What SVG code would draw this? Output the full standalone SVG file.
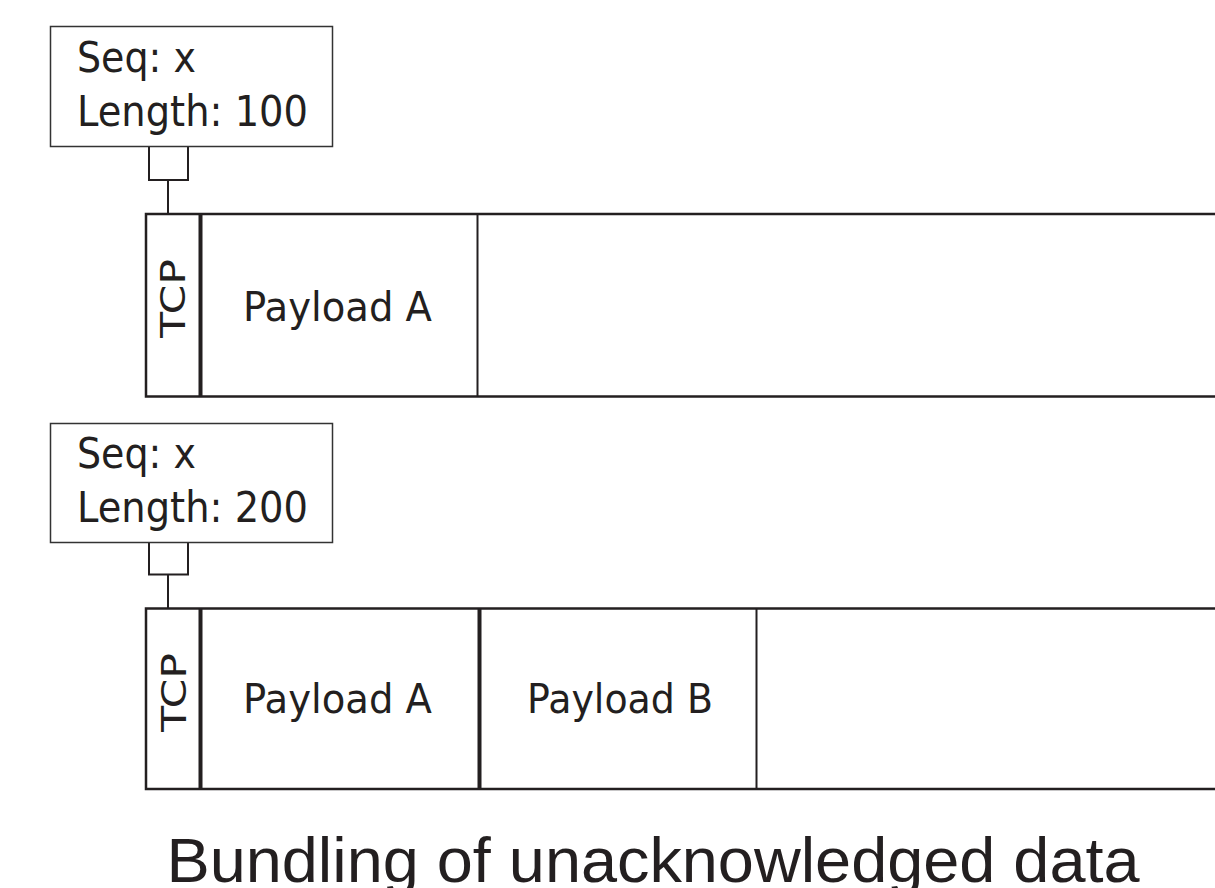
<svg xmlns="http://www.w3.org/2000/svg" width="1215" height="888" viewBox="0 0 1215 888">
<style>
.hdr{fill:#fff;stroke:#333;stroke-width:1.5}
.ln{fill:none;stroke:#231f20;stroke-width:2.5}
.thin{fill:none;stroke:#231f20;stroke-width:2}
.thick{fill:none;stroke:#231f20;stroke-width:4}
.lbl{font-family:"DejaVu Sans","Noto Sans",sans-serif;fill:#231f20}
.title{font-family:"Liberation Sans",Arial,sans-serif;fill:#231f20;font-size:63px}
</style>
<rect width="1215" height="888" fill="#fff"/>
<g id="connectors">
<path class="thin" d="M149,147 V180 H188 V147 M168,180 V214"/>
<path class="thin" d="M149,542.5 V574.5 H188 V542.5 M168,574.5 V608.5"/>
</g>
<g id="header1">
<rect class="hdr" x="50.5" y="26.5" width="282" height="120"/>
<text class="lbl" x="77" y="72" font-size="42" textLength="119" lengthAdjust="spacingAndGlyphs">Seq: x</text>
<text class="lbl" x="77" y="126" font-size="42" textLength="231" lengthAdjust="spacingAndGlyphs">Length: 100</text>
</g>
<g id="segment1">
<path class="ln" d="M1215,214 H146 V396.5 H1215"/>
<line class="thick" x1="200.5" y1="214" x2="200.5" y2="396.5"/>
<line class="thin" x1="477.5" y1="214" x2="477.5" y2="396.5"/>
<text class="lbl" transform="translate(185,298.5) rotate(-90)" text-anchor="middle" font-size="33" textLength="79" lengthAdjust="spacingAndGlyphs">TCP</text>
<text class="lbl" x="243" y="320.5" font-size="40" textLength="189" lengthAdjust="spacingAndGlyphs">Payload A</text>
</g>
<g id="header2">
<rect class="hdr" x="50.5" y="423.5" width="282" height="119"/>
<text class="lbl" x="77" y="468" font-size="42" textLength="119" lengthAdjust="spacingAndGlyphs">Seq: x</text>
<text class="lbl" x="77" y="522" font-size="42" textLength="231" lengthAdjust="spacingAndGlyphs">Length: 200</text>
</g>
<g id="segment2">
<path class="ln" d="M1215,608.5 H146 V789 H1215"/>
<line class="thick" x1="200.5" y1="608.5" x2="200.5" y2="789"/>
<line class="thick" x1="479.5" y1="608.5" x2="479.5" y2="789"/>
<line class="thin" x1="756.5" y1="608.5" x2="756.5" y2="789"/>
<text class="lbl" transform="translate(186,692.5) rotate(-90)" text-anchor="middle" font-size="33" textLength="79" lengthAdjust="spacingAndGlyphs">TCP</text>
<text class="lbl" x="243" y="713" font-size="40" textLength="189" lengthAdjust="spacingAndGlyphs">Payload A</text>
<text class="lbl" x="527" y="713" font-size="40" textLength="186" lengthAdjust="spacingAndGlyphs">Payload B</text>
</g>
<g id="caption">
<text class="title" x="166.5" y="881.5" textLength="973" lengthAdjust="spacingAndGlyphs">Bundling of unacknowledged data</text>
</g>
</svg>
